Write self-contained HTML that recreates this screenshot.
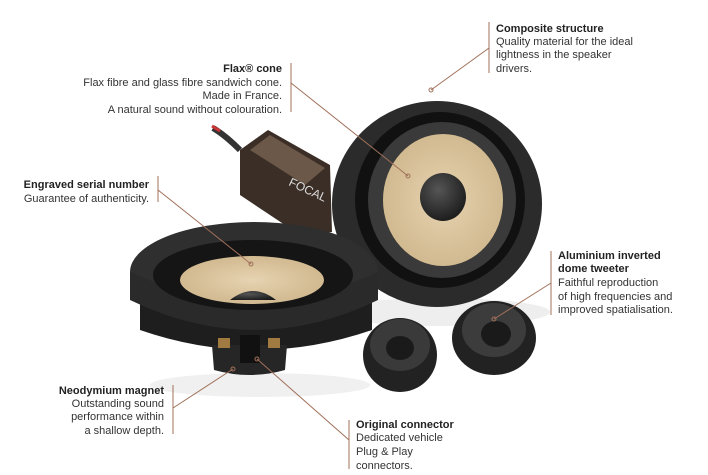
<!DOCTYPE html>
<html><head><meta charset="utf-8"><style>
body{margin:0;background:#fff;}
svg{display:block}
text{font-family:"Liberation Sans",sans-serif;font-size:11px;fill:#333}
.b{font-weight:bold;fill:#222}
</style></head><body>
<svg width="708" height="475" viewBox="0 0 708 475" xmlns="http://www.w3.org/2000/svg">
<defs>
<radialGradient id="cone" cx="50%" cy="50%" r="60%"><stop offset="0" stop-color="#e6d3b0"/><stop offset="1" stop-color="#cdb48a"/></radialGradient>
<radialGradient id="cap" cx="40%" cy="35%" r="70%"><stop offset="0" stop-color="#555"/><stop offset="1" stop-color="#1a1a1a"/></radialGradient>
</defs>
<!-- shadows -->
<ellipse cx="440" cy="312" rx="110" ry="14" fill="#eee"/>
<ellipse cx="260" cy="385" rx="110" ry="12" fill="#f0f0f0"/>
<!-- cable -->
<path d="M213 128 Q225 135 240 150" stroke="#333" stroke-width="6" fill="none"/>
<path d="M212 126 l8 5" stroke="#c33" stroke-width="3"/>
<!-- crossover -->
<path d="M240 150 L268 130 L330 165 L332 232 L300 235 L240 195 Z" fill="#3a2e26"/>
<path d="M250 150 L270 135 L325 168 L305 185 Z" fill="#6b5848"/>
<text x="288" y="185" transform="rotate(25 288 185)" style="fill:#ddd;font-size:12px">FOCAL</text>
<!-- big speaker -->
<ellipse cx="437" cy="204" rx="105" ry="103" fill="#2b2b2b"/>
<ellipse cx="440" cy="200" rx="85" ry="88" fill="#111"/>
<ellipse cx="442" cy="200" rx="74" ry="78" fill="#3a3a3a"/>
<ellipse cx="443" cy="200" rx="60" ry="66" fill="url(#cone)"/>
<ellipse cx="443" cy="197" rx="23" ry="24" fill="url(#cap)"/>
<!-- left speaker -->
<path d="M140 300 L140 330 Q255 370 372 330 L372 300 Z" fill="#1e1e1e"/>
<path d="M212 345 L287 345 L285 370 Q250 380 214 370 Z" fill="#262626"/>
<rect x="240" y="335" width="20" height="28" fill="#111"/>
<rect x="218" y="338" width="12" height="10" fill="#a07a40"/>
<rect x="268" y="338" width="12" height="10" fill="#a07a40"/>
<ellipse cx="254" cy="272" rx="124" ry="50" fill="#2f2f2f"/>
<path d="M130 272 L130 300 Q254 360 378 300 L378 272 Q254 330 130 272Z" fill="#2a2a2a"/>
<ellipse cx="253" cy="275" rx="100" ry="35" fill="#151515"/>
<ellipse cx="252" cy="280" rx="72" ry="24" fill="url(#cone)"/>
<path d="M230 300 Q253 282 276 300 Z" fill="url(#cap)"/>
<!-- tweeters -->
<ellipse cx="400" cy="355" rx="37" ry="37" fill="#222"/>
<ellipse cx="400" cy="345" rx="30" ry="26" fill="#3a3a3a"/>
<ellipse cx="400" cy="348" rx="14" ry="12" fill="#1a1a1a"/>
<ellipse cx="494" cy="338" rx="42" ry="37" fill="#222"/>
<ellipse cx="494" cy="330" rx="32" ry="27" fill="#3c3c3c"/>
<ellipse cx="496" cy="334" rx="15" ry="13" fill="#1a1a1a"/>
<!-- callout lines -->
<g stroke="#a0705a" stroke-width="1" fill="none">
<line x1="489" y1="22" x2="489" y2="73"/><line x1="489" y1="48" x2="431" y2="90"/><circle cx="431" cy="90" r="2"/>
<line x1="291" y1="63" x2="291" y2="112"/><line x1="291" y1="83" x2="408" y2="176"/><circle cx="408" cy="176" r="2"/>
<line x1="158" y1="176" x2="158" y2="202"/><line x1="158" y1="190" x2="251" y2="264"/><circle cx="251" cy="264" r="2"/>
<line x1="173" y1="385" x2="173" y2="434"/><line x1="173" y1="408" x2="233" y2="369"/><circle cx="233" cy="369" r="2"/>
<line x1="349" y1="420" x2="349" y2="469"/><line x1="349" y1="440" x2="257" y2="359"/><circle cx="257" cy="359" r="2"/>
<line x1="551" y1="251" x2="551" y2="315"/><line x1="551" y1="283" x2="494" y2="319"/><circle cx="494" cy="319" r="2"/>
</g>
<!-- labels -->
<text x="496" y="32" class="b">Composite structure</text>
<text x="496" y="45">Quality material for the ideal</text>
<text x="496" y="58">lightness in the speaker</text>
<text x="496" y="72">drivers.</text>
<g text-anchor="end">
<text x="282" y="72" class="b">Flax® cone</text>
<text x="282" y="86">Flax fibre and glass fibre sandwich cone.</text>
<text x="282" y="99">Made in France.</text>
<text x="282" y="113">A natural sound without colouration.</text>
<text x="149" y="188" class="b">Engraved serial number</text>
<text x="149" y="202">Guarantee of authenticity.</text>
<text x="164" y="394" class="b">Neodymium magnet</text>
<text x="164" y="407">Outstanding sound</text>
<text x="164" y="420">performance within</text>
<text x="164" y="434">a shallow depth.</text>
</g>
<text x="356" y="428" class="b">Original connector</text>
<text x="356" y="441">Dedicated vehicle</text>
<text x="356" y="455">Plug &amp; Play</text>
<text x="356" y="469">connectors.</text>
<text x="558" y="259" class="b">Aluminium inverted</text>
<text x="558" y="272" class="b">dome tweeter</text>
<text x="558" y="286">Faithful reproduction</text>
<text x="558" y="300">of high frequencies and</text>
<text x="558" y="313">improved spatialisation.</text>
</svg>
</body></html>
